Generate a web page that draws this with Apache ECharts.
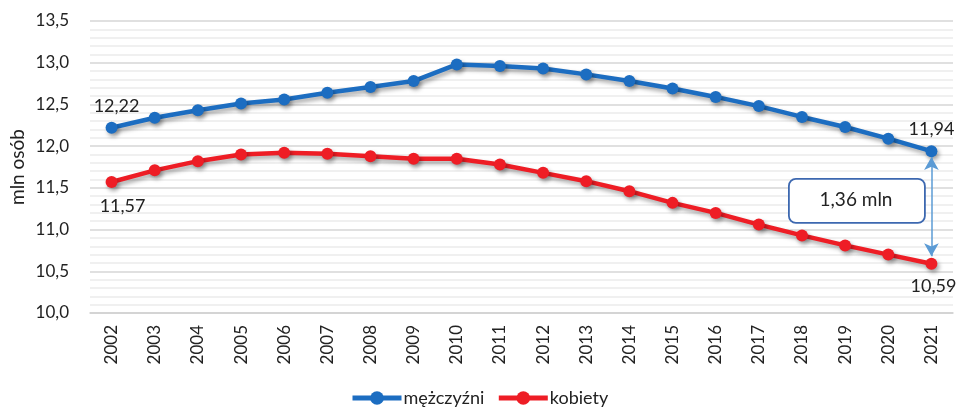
<!DOCTYPE html>
<html>
<head>
    <meta charset="utf-8">
    <title>Ludność wg płci</title>
    <script src="https://cdn.jsdelivr.net/npm/echarts@6/dist/echarts.min.js"></script>
    <style>
        html, body { margin: 0; padding: 0; background: #fff; }
        #chart { width: 968px; height: 409px; }
    </style>
</head>
<body>
    <div id="chart"></div>
    <script>
        // dane
        var years = ['2002', '2003', '2004', '2005', '2006', '2007', '2008', '2009', '2010', '2011',
                     '2012', '2013', '2014', '2015', '2016', '2017', '2018', '2019', '2020', '2021'];
        var men = [12.22, 12.34, 12.43, 12.51, 12.56, 12.64, 12.71, 12.78, 12.98, 12.96,
                   12.93, 12.86, 12.78, 12.69, 12.59, 12.48, 12.35, 12.23, 12.09, 11.94];
        var women = [11.57, 11.71, 11.82, 11.90, 11.92, 11.91, 11.88, 11.85, 11.85, 11.78,
                     11.68, 11.58, 11.46, 11.32, 11.20, 11.06, 10.93, 10.81, 10.70, 10.59];
        var gapText = '1,36 mln';
        var yName = 'mln osób';

        var FONT = 'Lato';
        var BLUE = '#1C6DC1';
        var RED = '#EE1D25';

        function fmt(v, d) {
            return v.toFixed(d).replace('.', ',');
        }

        // etykiety tylko dla pierwszego i ostatniego punktu
        function buildData(values, firstPos, firstOff, lastPos, lastOff) {
            return values.map(function (v, i) {
                var item = { value: v };
                if (i === 0 || i === values.length - 1) {
                    item.label = {
                        show: true,
                        position: i === 0 ? firstPos : lastPos,
                        offset: i === 0 ? firstOff : lastOff,
                        formatter: fmt(v, 2)
                    };
                }
                return item;
            });
        }

        var shadow = {
            shadowColor: 'rgba(0,0,0,0.35)',
            shadowBlur: 4,
            shadowOffsetX: 2,
            shadowOffsetY: 3
        };

        var chart = echarts.init(document.getElementById('chart'));
        var option = {
            animation: false,
            textStyle: { fontFamily: FONT },
            grid: { left: 90, right: 15, top: 21, bottom: 96 },
            legend: {
                bottom: -3,
                left: 345,
                itemWidth: 49,
                itemHeight: 17,
                itemGap: 12,
                lineStyle: { width: 5 },
                textStyle: { fontFamily: FONT, fontSize: 18, color: '#222', padding: [0, 0, 0, -3] },
                data: ['mężczyźni', 'kobiety']
            },
            xAxis: {
                type: 'category',
                data: years,
                axisLine: { lineStyle: { color: '#d0d0d0', width: 1.5 } },
                axisTick: { show: false },
                axisLabel: { rotate: 90, margin: 12, fontSize: 17, color: '#222', fontFamily: FONT }
            },
            yAxis: {
                type: 'value',
                min: 10,
                max: 13.5,
                interval: 0.5,
                axisLine: { show: false },
                axisTick: { show: false },
                axisLabel: {
                    margin: 21,
                    fontSize: 17,
                    color: '#222',
                    fontFamily: FONT,
                    formatter: function (v) { return fmt(v, 1); }
                },
                splitLine: { lineStyle: { color: '#d6d6d6', width: 1.5 } },
                minorTick: { show: false, splitNumber: 5 },
                minorSplitLine: { show: true, lineStyle: { color: '#ececec', width: 1.5 } }
            },
            series: [
                {
                    name: 'mężczyźni',
                    type: 'line',
                    data: buildData(men, 'top', [5, -2], 'top', [0, -2]),
                    symbol: 'circle',
                    symbolSize: 12,
                    color: BLUE,
                    lineStyle: Object.assign({ width: 4.5, color: BLUE }, shadow),
                    itemStyle: Object.assign({ color: BLUE }, shadow),
                    label: { fontSize: 18, color: '#222', fontFamily: FONT },
                    emphasis: { disabled: true },
                    markLine: {
                        silent: true,
                        symbol: ['arrow', 'arrow'],
                        symbolSize: [11, 13],
                        label: { show: false },
                        lineStyle: { color: '#5B9BD5', width: 1.5, type: 'solid' },
                        data: [[
                            { coord: [years.length - 1, 11.87] },
                            { coord: [years.length - 1, 10.68] }
                        ]]
                    }
                },
                {
                    name: 'kobiety',
                    type: 'line',
                    data: buildData(women, 'bottom', [11, 4], 'bottom', [2, 2]),
                    symbol: 'circle',
                    symbolSize: 12,
                    color: RED,
                    lineStyle: Object.assign({ width: 4.5, color: RED }, shadow),
                    itemStyle: Object.assign({ color: RED }, shadow),
                    label: { fontSize: 18, color: '#222', fontFamily: FONT },
                    emphasis: { disabled: true }
                }
            ],
            graphic: [
                {
                    type: 'text',
                    x: 18,
                    y: 167,
                    rotation: Math.PI / 2,
                    z: 100,
                    style: {
                        text: yName,
                        fontFamily: FONT,
                        fontSize: 19,
                        fill: '#222',
                        align: 'center',
                        verticalAlign: 'middle'
                    }
                },
                {
                    type: 'rect',
                    left: 788,
                    top: 178,
                    z: 100,
                    shape: { width: 136, height: 44, r: 7 },
                    style: { fill: '#fff', stroke: '#3D68B0', lineWidth: 1.8 }
                },
                {
                    type: 'text',
                    x: 856,
                    y: 200,
                    z: 101,
                    style: {
                        text: gapText,
                        fontFamily: FONT,
                        fontSize: 19,
                        fill: '#222',
                        align: 'center',
                        verticalAlign: 'middle'
                    }
                }
            ]
        };
        chart.setOption(option);
    </script>
</body>
</html>
